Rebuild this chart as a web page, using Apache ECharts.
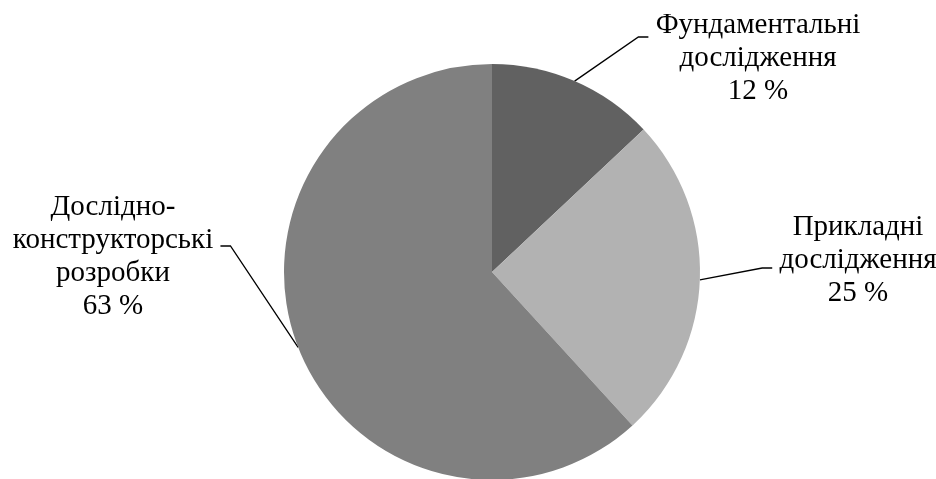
<!DOCTYPE html>
<html>
<head>
<meta charset="utf-8">
<script src="https://cdn.jsdelivr.net/npm/echarts@6/dist/echarts.min.js"></script>
<style>
html,body{margin:0;padding:0;background:#fff;}
#chart{width:936px;height:479px;}
</style>
</head>
<body>
<div id="chart"></div>
<script>
// Data
var categories = ['Фундаментальні\nдослідження', 'Прикладні\nдослідження', 'Дослідно-\nконструкторські\nрозробки'];
var sliceValues = [13.0, 25.2, 61.8];          // slice sizes
var percentLabels = ['12', '25', '63'];        // percentages printed on the chart
var sliceColors = ['#616161', '#b2b2b2', '#808080'];

var chart = echarts.init(document.getElementById('chart'), null, {renderer: 'canvas'});

// label placement (layout only)
var labelPlace = [
  {x: 758, y: 37, top: 'g42', bottom: null},
  {x: 858, y: 268, top: null, bottom: 'g16'},
  {x: 113, y: 246, top: 'g21', bottom: null}
];

var data = categories.map(function (c, i) {
  return {name: c, value: sliceValues[i], itemStyle: {color: sliceColors[i]}};
});

chart.setOption({
  animation: false,
  backgroundColor: '#ffffff',
  series: [{
    type: 'pie',
    center: [492, 272],
    radius: 208,
    startAngle: 90,
    clockwise: true,
    data: data,
    itemStyle: {borderWidth: 0},
    label: {
      show: true,
      position: 'outside',
      formatter: function (p) {
        var pl = labelPlace[p.dataIndex];
        var lines = p.name.split('\n').concat([percentLabels[p.dataIndex] + ' %']);
        var out = lines.map(function (l) { return '{t|\u00a0' + l + '\u00a0}'; });
        if (pl.top) out.unshift('{' + pl.top + '| }');
        if (pl.bottom) out.push('{' + pl.bottom + '| }');
        return out.join('\n');
      },
      fontFamily: 'Liberation Serif',
      fontSize: 29,
      lineHeight: 33,
      color: '#000',
      align: 'center',
      rich: {
        t: {fontFamily: 'Liberation Serif', fontSize: 29, lineHeight: 33, color: '#000'},
        g42: {fontSize: 1, lineHeight: 42},
        g21: {fontSize: 1, lineHeight: 21},
        g16: {fontSize: 1, lineHeight: 16}
      }
    },
    labelLine: {
      show: true,
      length: 20,
      length2: 10,
      lineStyle: {color: '#000', width: 1.3}
    },
    labelLayout: function (params) {
      var pl = labelPlace[params.dataIndex];
      return {x: pl.x, y: pl.y, align: 'center', verticalAlign: 'middle'};
    },
    emphasis: {disabled: true}
  }]
});
</script>
</body>
</html>
